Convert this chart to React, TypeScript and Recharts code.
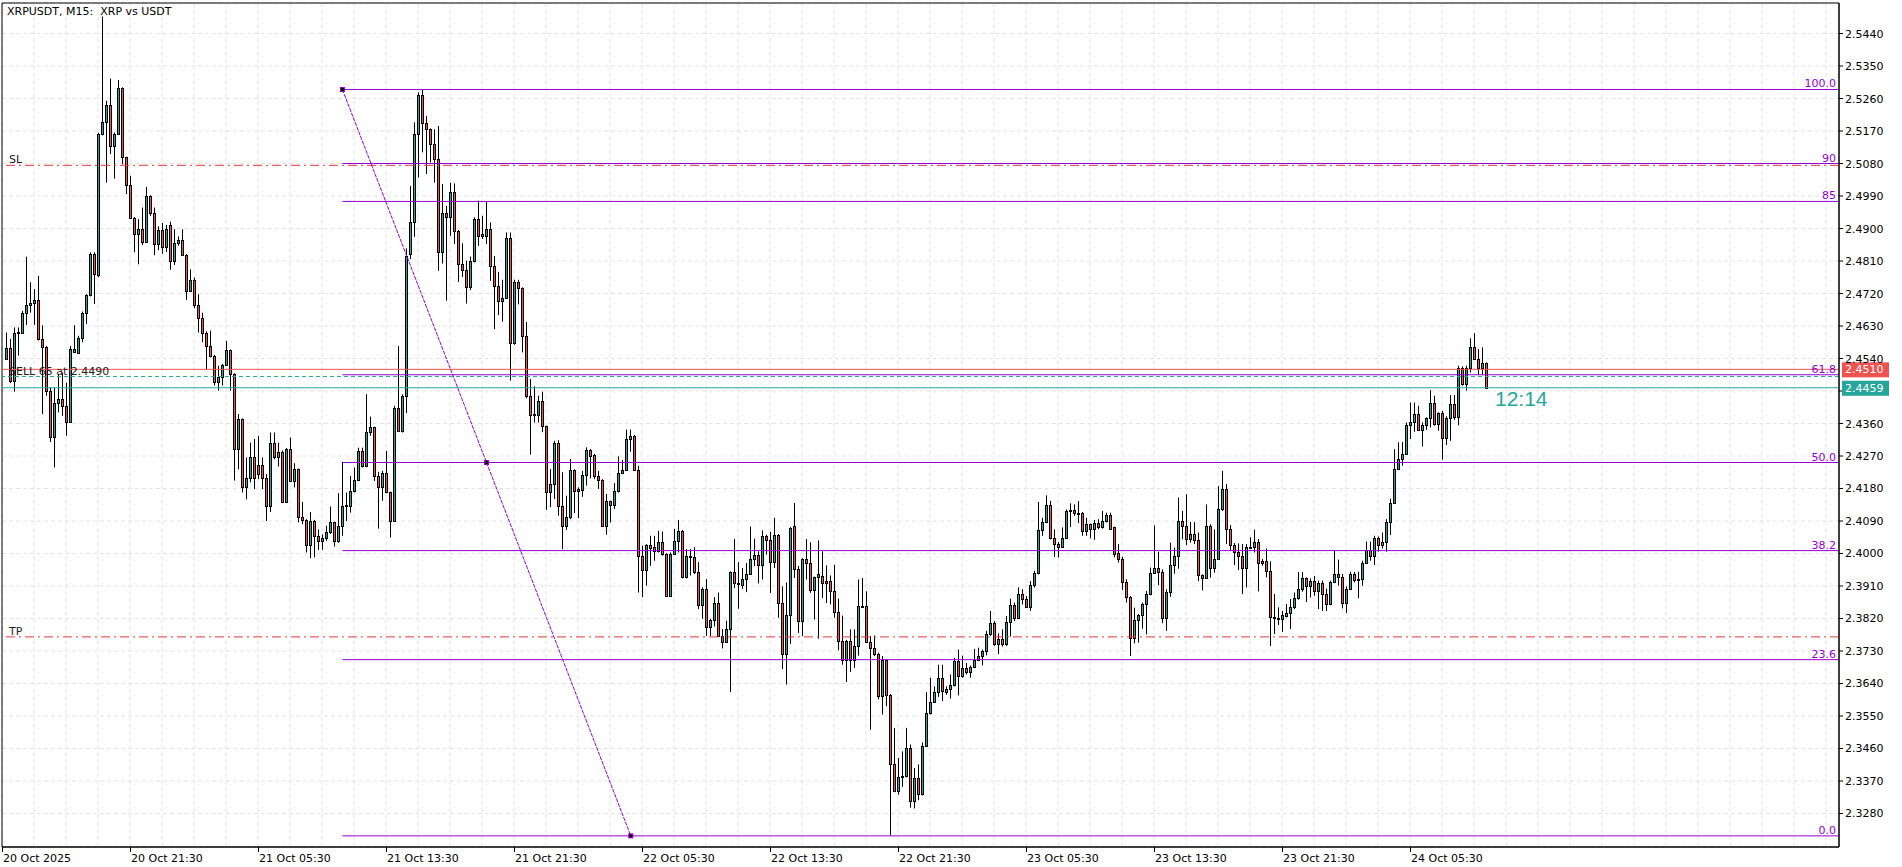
import React from 'react';
import {
  ComposedChart,
  Bar,
  XAxis,
  YAxis,
  CartesianGrid,
  ReferenceLine,
  ReferenceDot,
  ReferenceArea,
} from 'recharts';

// [open, high, low, close] per M15 bar
type Ohlc = [number, number, number, number];

// 20 Oct 13:45 - 23:45
const oct20: Ohlc[] = [
  [2.4540, 2.4612, 2.4537, 2.4568], [2.4568, 2.4594, 2.4472, 2.4478], [2.4478, 2.4626, 2.4448, 2.4612],
  [2.4610, 2.4626, 2.4548, 2.4614], [2.4612, 2.4672, 2.4610, 2.4667], [2.4667, 2.4822, 2.4633, 2.4688],
  [2.4688, 2.4751, 2.4667, 2.4694], [2.4693, 2.4732, 2.4633, 2.4702], [2.4702, 2.4769, 2.4590, 2.4594],
  [2.4594, 2.4632, 2.4386, 2.4571], [2.4571, 2.4575, 2.4437, 2.4451], [2.4451, 2.4460, 2.4309, 2.4323],
  [2.4323, 2.4460, 2.4238, 2.4418], [2.4418, 2.4497, 2.4391, 2.4429], [2.4429, 2.4501, 2.4381, 2.4409],
  [2.4409, 2.4473, 2.4326, 2.4365], [2.4365, 2.4575, 2.4362, 2.4566], [2.4557, 2.4632, 2.4555, 2.4566],
  [2.4556, 2.4603, 2.4553, 2.4597], [2.4597, 2.4670, 2.4585, 2.4667], [2.4667, 2.4718, 2.4635, 2.4715],
  [2.4715, 2.4834, 2.4712, 2.4829], [2.4829, 2.4834, 2.4691, 2.4774], [2.4771, 2.5165, 2.4765, 2.5161],
  [2.5161, 2.5487, 2.5158, 2.5194], [2.5194, 2.5254, 2.5027, 2.5242], [2.5242, 2.5315, 2.5106, 2.5129],
  [2.5129, 2.5166, 2.5038, 2.5163], [2.5163, 2.5311, 2.5160, 2.5288], [2.5288, 2.5291, 2.5078, 2.5097],
  [2.5097, 2.5099, 2.4995, 2.5020], [2.5020, 2.5046, 2.4928, 2.4930], [2.4930, 2.4932, 2.4834, 2.4884],
  [2.4884, 2.4926, 2.4801, 2.4898], [2.4898, 2.4958, 2.4854, 2.4864], [2.4864, 2.5015, 2.4862, 2.4990],
  [2.4990, 2.4992, 2.4935, 2.4944], [2.4944, 2.4958, 2.4826, 2.4858], [2.4858, 2.4906, 2.4840, 2.4896],
  [2.4896, 2.4915, 2.4830, 2.4850], [2.4850, 2.4910, 2.4835, 2.4900],
];

// 21 Oct 00:00 - 23:45
const oct21: Ohlc[] = [
  [2.4910, 2.4919, 2.4786, 2.4810], [2.4810, 2.4898, 2.4799, 2.4861], [2.4861, 2.4878, 2.4852, 2.4868],
  [2.4868, 2.4898, 2.4824, 2.4826], [2.4826, 2.4829, 2.4702, 2.4726], [2.4726, 2.4787, 2.4724, 2.4757],
  [2.4757, 2.4764, 2.4679, 2.4688], [2.4688, 2.4718, 2.4612, 2.4651], [2.4651, 2.4667, 2.4585, 2.4612],
  [2.4612, 2.4615, 2.4509, 2.4575], [2.4575, 2.4617, 2.4543, 2.4548], [2.4548, 2.4550, 2.4465, 2.4476],
  [2.4476, 2.4520, 2.4451, 2.4489], [2.4489, 2.4525, 2.4465, 2.4522], [2.4522, 2.4589, 2.4520, 2.4563],
  [2.4563, 2.4565, 2.4451, 2.4497], [2.4497, 2.4499, 2.4202, 2.4289], [2.4289, 2.4386, 2.4233, 2.4372],
  [2.4372, 2.4374, 2.4169, 2.4183], [2.4183, 2.4266, 2.4150, 2.4208], [2.4208, 2.4307, 2.4197, 2.4266],
  [2.4266, 2.4317, 2.4178, 2.4208], [2.4245, 2.4326, 2.4206, 2.4220], [2.4245, 2.4266, 2.4178, 2.4208],
  [2.4208, 2.4220, 2.4090, 2.4132], [2.4132, 2.4335, 2.4115, 2.4307], [2.4307, 2.4335, 2.4261, 2.4266],
  [2.4266, 2.4307, 2.4241, 2.4282], [2.4282, 2.4285, 2.4140, 2.4143], [2.4143, 2.4292, 2.4140, 2.4289],
  [2.4289, 2.4321, 2.4199, 2.4201], [2.4201, 2.4250, 2.4183, 2.4233], [2.4233, 2.4235, 2.4086, 2.4102],
  [2.4102, 2.4143, 2.4081, 2.4093], [2.4093, 2.4095, 2.4003, 2.4024], [2.4024, 2.4115, 2.3987, 2.4091],
  [2.4091, 2.4093, 2.3989, 2.4049], [2.4049, 2.4067, 2.4010, 2.4035], [2.4035, 2.4053, 2.4010, 2.4042],
  [2.4042, 2.4077, 2.4035, 2.4060], [2.4060, 2.4130, 2.4054, 2.4086], [2.4086, 2.4088, 2.4019, 2.4035],
  [2.4035, 2.4167, 2.4030, 2.4075], [2.4075, 2.4254, 2.4049, 2.4132], [2.4132, 2.4169, 2.4090, 2.4134],
  [2.4132, 2.4215, 2.4113, 2.4174], [2.4174, 2.4238, 2.4169, 2.4204], [2.4204, 2.4293, 2.4202, 2.4284],
  [2.4284, 2.4293, 2.4238, 2.4241], [2.4241, 2.4441, 2.4239, 2.4337], [2.4337, 2.4379, 2.4326, 2.4349],
  [2.4349, 2.4351, 2.4201, 2.4215], [2.4215, 2.4226, 2.4069, 2.4183], [2.4183, 2.4229, 2.4146, 2.4224],
  [2.4224, 2.4284, 2.4167, 2.4169], [2.4169, 2.4171, 2.4044, 2.4091], [2.4091, 2.4409, 2.4089, 2.4404],
  [2.4404, 2.4575, 2.4338, 2.4340], [2.4340, 2.4441, 2.4335, 2.4437], [2.4437, 2.4845, 2.4389, 2.4824],
  [2.4829, 2.5018, 2.4815, 2.4919], [2.4919, 2.5194, 2.4877, 2.5161], [2.5161, 2.5277, 2.5041, 2.5269],
  [2.5269, 2.5286, 2.5111, 2.5191], [2.5191, 2.5212, 2.5051, 2.5175], [2.5175, 2.5177, 2.5083, 2.5134],
  [2.5134, 2.5175, 2.5027, 2.5092], [2.5092, 2.5184, 2.4783, 2.4835], [2.4835, 2.5023, 2.4803, 2.4944],
  [2.4944, 2.4963, 2.4700, 2.4931], [2.4931, 2.5027, 2.4880, 2.5000], [2.5000, 2.5025, 2.4857, 2.4894],
  [2.4894, 2.4896, 2.4752, 2.4803], [2.4803, 2.4859, 2.4766, 2.4786], [2.4786, 2.4811, 2.4692, 2.4737],
  [2.4737, 2.4822, 2.4730, 2.4811], [2.4811, 2.4931, 2.4806, 2.4926], [2.4926, 2.4977, 2.4852, 2.4880],
  [2.4880, 2.4935, 2.4871, 2.4884], [2.4880, 2.4974, 2.4857, 2.4898], [2.4898, 2.4917, 2.4755, 2.4797],
  [2.4797, 2.4824, 2.4621, 2.4741], [2.4741, 2.4780, 2.4660, 2.4700], [2.4700, 2.4758, 2.4642, 2.4707],
  [2.4707, 2.4889, 2.4705, 2.4874], [2.4874, 2.4889, 2.4479, 2.4583], [2.4583, 2.4758, 2.4578, 2.4753],
  [2.4753, 2.4758, 2.4690, 2.4735], [2.4735, 2.4737, 2.4557, 2.4601], [2.4601, 2.4641, 2.4430, 2.4435],
  [2.4435, 2.4483, 2.4274, 2.4384], [2.4384, 2.4463, 2.4363, 2.4386], [2.4384, 2.4437, 2.4363, 2.4421],
  [2.4421, 2.4448, 2.4336, 2.4352], [2.4352, 2.4354, 2.4121, 2.4169], [2.4169, 2.4234, 2.4128, 2.4192],
];

// 22 Oct 00:00 - 23:45
const oct22: Ohlc[] = [
  [2.4192, 2.4312, 2.4151, 2.4305], [2.4305, 2.4314, 2.4105, 2.4131], [2.4131, 2.4225, 2.4012, 2.4077],
  [2.4077, 2.4160, 2.4065, 2.4100], [2.4100, 2.4262, 2.4095, 2.4231], [2.4231, 2.4233, 2.4112, 2.4174],
  [2.4179, 2.4183, 2.4098, 2.4172], [2.4177, 2.4229, 2.4157, 2.4217], [2.4217, 2.4294, 2.4188, 2.4287],
  [2.4287, 2.4289, 2.4208, 2.4271], [2.4273, 2.4276, 2.4206, 2.4214], [2.4214, 2.4229, 2.4179, 2.4204],
  [2.4204, 2.4206, 2.4075, 2.4077], [2.4077, 2.4165, 2.4052, 2.4144], [2.4144, 2.4146, 2.4086, 2.4135],
  [2.4135, 2.4195, 2.4123, 2.4172], [2.4172, 2.4269, 2.4169, 2.4222], [2.4222, 2.4259, 2.4220, 2.4231],
  [2.4231, 2.4343, 2.4229, 2.4317], [2.4317, 2.4343, 2.4282, 2.4326], [2.4326, 2.4328, 2.4229, 2.4231],
  [2.4231, 2.4243, 2.3892, 2.3994], [2.3994, 2.4022, 2.3879, 2.3955], [2.3955, 2.4026, 2.3911, 2.4024],
  [2.4024, 2.4049, 2.3966, 2.4015], [2.4017, 2.4049, 2.3980, 2.4006], [2.4006, 2.4063, 2.4003, 2.4031],
  [2.4031, 2.4061, 2.3994, 2.3999], [2.3999, 2.4001, 2.3881, 2.3883], [2.3883, 2.4003, 2.3881, 2.3999],
  [2.3999, 2.4068, 2.3996, 2.4034], [2.4034, 2.4093, 2.4003, 2.4063], [2.4063, 2.4065, 2.3931, 2.3936],
  [2.3936, 2.4012, 2.3931, 2.3992], [2.3992, 2.4012, 2.3939, 2.3989], [2.3989, 2.4017, 2.3943, 2.3950],
  [2.3950, 2.3976, 2.3846, 2.3858], [2.3858, 2.3906, 2.3819, 2.3902], [2.3902, 2.3929, 2.3772, 2.3796],
  [2.3796, 2.3819, 2.3771, 2.3816], [2.3816, 2.3879, 2.3798, 2.3862], [2.3862, 2.3892, 2.3770, 2.3772],
  [2.3772, 2.3791, 2.3737, 2.3756], [2.3756, 2.3814, 2.3754, 2.3791], [2.3791, 2.3950, 2.3616, 2.3948],
  [2.3948, 2.4040, 2.3904, 2.3917], [2.3916, 2.3976, 2.3847, 2.3918], [2.3914, 2.3960, 2.3902, 2.3928],
  [2.3928, 2.3974, 2.3893, 2.3944], [2.3944, 2.4075, 2.3942, 2.3986], [2.3986, 2.4041, 2.3965, 2.3997],
  [2.3997, 2.4006, 2.3917, 2.3967], [2.3967, 2.4064, 2.3928, 2.4048], [2.4048, 2.4052, 2.3997, 2.4036],
  [2.4036, 2.4060, 2.3891, 2.3976], [2.3976, 2.4099, 2.3960, 2.4050], [2.4052, 2.4054, 2.3822, 2.3863],
  [2.3863, 2.3909, 2.3680, 2.3723], [2.3723, 2.3920, 2.3637, 2.3831], [2.3831, 2.4073, 2.3750, 2.4071],
  [2.4075, 2.4140, 2.3932, 2.3958], [2.3958, 2.3965, 2.3780, 2.3814], [2.3814, 2.3987, 2.3771, 2.3986],
  [2.3986, 2.4040, 2.3928, 2.3974], [2.3974, 2.4031, 2.3891, 2.3900], [2.3900, 2.3936, 2.3817, 2.3934],
  [2.3934, 2.4036, 2.3764, 2.3942], [2.3939, 2.4006, 2.3877, 2.3919], [2.3925, 2.3967, 2.3863, 2.3919],
  [2.3925, 2.3939, 2.3859, 2.3897], [2.3897, 2.3969, 2.3822, 2.3838], [2.3838, 2.3875, 2.3732, 2.3759],
  [2.3759, 2.3828, 2.3692, 2.3706], [2.3706, 2.3761, 2.3644, 2.3759], [2.3759, 2.3790, 2.3672, 2.3706],
  [2.3706, 2.3790, 2.3683, 2.3743], [2.3743, 2.3928, 2.3717, 2.3854], [2.3854, 2.3932, 2.3849, 2.3851],
  [2.3854, 2.3895, 2.3752, 2.3754], [2.3754, 2.3771, 2.3512, 2.3739], [2.3739, 2.3773, 2.3716, 2.3723],
  [2.3723, 2.3725, 2.3596, 2.3605], [2.3605, 2.3716, 2.3554, 2.3704], [2.3704, 2.3706, 2.3577, 2.3609],
  [2.3609, 2.3611, 2.3219, 2.3416], [2.3416, 2.3517, 2.3339, 2.3342], [2.3342, 2.3434, 2.3332, 2.3380],
  [2.3380, 2.3452, 2.3354, 2.3383], [2.3383, 2.3517, 2.3380, 2.3462], [2.3462, 2.3471, 2.3296, 2.3314],
  [2.3314, 2.3406, 2.3294, 2.3379], [2.3379, 2.3416, 2.3317, 2.3335], [2.3335, 2.3477, 2.3330, 2.3468],
  [2.3468, 2.3616, 2.3464, 2.3557], [2.3557, 2.3656, 2.3554, 2.3589], [2.3589, 2.3632, 2.3586, 2.3617],
];

// 23 Oct 00:00 - 23:45
const oct23: Ohlc[] = [
  [2.3617, 2.3692, 2.3603, 2.3654], [2.3654, 2.3692, 2.3591, 2.3619], [2.3617, 2.3632, 2.3609, 2.3626],
  [2.3626, 2.3665, 2.3598, 2.3637], [2.3637, 2.3711, 2.3632, 2.3702], [2.3702, 2.3734, 2.3607, 2.3660],
  [2.3660, 2.3717, 2.3656, 2.3683], [2.3683, 2.3697, 2.3665, 2.3672], [2.3672, 2.3690, 2.3656, 2.3686],
  [2.3686, 2.3736, 2.3683, 2.3706], [2.3706, 2.3739, 2.3702, 2.3716], [2.3716, 2.3734, 2.3690, 2.3729],
  [2.3729, 2.3786, 2.3718, 2.3778], [2.3778, 2.3841, 2.3772, 2.3807], [2.3807, 2.3813, 2.3744, 2.3749],
  [2.3749, 2.3779, 2.3721, 2.3764], [2.3764, 2.3790, 2.3742, 2.3750], [2.3750, 2.3827, 2.3744, 2.3809],
  [2.3809, 2.3875, 2.3770, 2.3857], [2.3857, 2.3864, 2.3813, 2.3822], [2.3822, 2.3906, 2.3820, 2.3889],
  [2.3889, 2.3901, 2.3859, 2.3873], [2.3873, 2.3882, 2.3850, 2.3853], [2.3853, 2.3924, 2.3841, 2.3912],
  [2.3912, 2.3952, 2.3906, 2.3947], [2.3947, 2.4143, 2.3942, 2.4064], [2.4064, 2.4099, 2.4049, 2.4087],
  [2.4087, 2.4161, 2.4084, 2.4134], [2.4134, 2.4146, 2.4039, 2.4042], [2.4042, 2.4067, 2.3990, 2.4027],
  [2.4027, 2.4032, 2.3989, 2.4019], [2.4019, 2.4072, 2.4016, 2.4044], [2.4044, 2.4122, 2.4041, 2.4118],
  [2.4118, 2.4139, 2.4073, 2.4120], [2.4120, 2.4136, 2.4104, 2.4113], [2.4113, 2.4145, 2.4084, 2.4113],
  [2.4113, 2.4115, 2.4049, 2.4061], [2.4061, 2.4099, 2.4049, 2.4081], [2.4081, 2.4083, 2.4042, 2.4069],
  [2.4069, 2.4093, 2.4038, 2.4084], [2.4084, 2.4095, 2.4067, 2.4074], [2.4074, 2.4118, 2.4069, 2.4090],
  [2.4090, 2.4113, 2.4086, 2.4106], [2.4106, 2.4113, 2.4067, 2.4069], [2.4072, 2.4074, 2.3989, 2.3998],
  [2.4000, 2.4026, 2.3975, 2.3986], [2.3986, 2.3991, 2.3899, 2.3922], [2.3922, 2.3929, 2.3864, 2.3880],
  [2.3880, 2.3882, 2.3716, 2.3767], [2.3767, 2.3850, 2.3751, 2.3816], [2.3816, 2.3832, 2.3753, 2.3829],
  [2.3829, 2.3864, 2.3792, 2.3859], [2.3859, 2.3896, 2.3776, 2.3889], [2.3889, 2.3961, 2.3884, 2.3947],
  [2.3947, 2.4078, 2.3945, 2.3961], [2.3961, 2.4005, 2.3912, 2.3950], [2.3950, 2.3956, 2.3807, 2.3822],
  [2.3822, 2.3901, 2.3786, 2.3894], [2.3894, 2.4030, 2.3880, 2.3968], [2.3968, 2.4016, 2.3944, 2.3993],
  [2.3993, 2.4155, 2.3958, 2.4090], [2.4090, 2.4118, 2.4039, 2.4076], [2.4076, 2.4164, 2.4023, 2.4041],
  [2.4041, 2.4087, 2.4030, 2.4053], [2.4053, 2.4087, 2.4026, 2.4037], [2.4037, 2.4058, 2.3924, 2.3940],
  [2.3940, 2.3942, 2.3898, 2.3933], [2.3933, 2.4136, 2.3931, 2.4076], [2.4076, 2.4081, 2.3933, 2.3961],
  [2.3961, 2.4067, 2.3947, 2.3986], [2.3986, 2.4187, 2.3984, 2.4124], [2.4124, 2.4229, 2.4118, 2.4178],
  [2.4178, 2.4192, 2.4026, 2.4067], [2.4067, 2.4079, 2.4008, 2.4024], [2.4024, 2.4029, 2.3968, 2.4003],
  [2.4003, 2.4028, 2.3954, 2.3992], [2.3992, 2.4026, 2.3888, 2.3959], [2.3959, 2.4026, 2.3906, 2.4017],
  [2.4017, 2.4045, 2.4014, 2.4018], [2.4017, 2.4066, 2.4003, 2.4033], [2.4033, 2.4040, 2.3895, 2.3973],
  [2.3978, 2.3985, 2.3966, 2.3973], [2.3978, 2.4014, 2.3934, 2.3952], [2.3952, 2.3978, 2.3744, 2.3823],
  [2.3823, 2.3888, 2.3777, 2.3820], [2.3818, 2.3851, 2.3802, 2.3821], [2.3818, 2.3841, 2.3783, 2.3829],
  [2.3828, 2.3860, 2.3823, 2.3834], [2.3834, 2.3874, 2.3791, 2.3851], [2.3851, 2.3892, 2.3846, 2.3876],
  [2.3876, 2.3949, 2.3872, 2.3903], [2.3903, 2.3949, 2.3894, 2.3931], [2.3931, 2.3934, 2.3866, 2.3909],
  [2.3909, 2.3931, 2.3878, 2.3923], [2.3923, 2.3938, 2.3883, 2.3897], [2.3897, 2.3925, 2.3846, 2.3917],
];

// 24 Oct 00:00 - 10:15 (last bar still open)
const oct24: Ohlc[] = [
  [2.3917, 2.3925, 2.3841, 2.3889], [2.3889, 2.3903, 2.3841, 2.3860], [2.3860, 2.3925, 2.3857, 2.3920],
  [2.3920, 2.4008, 2.3918, 2.3943], [2.3943, 2.3983, 2.3911, 2.3934], [2.3934, 2.3943, 2.3848, 2.3864],
  [2.3864, 2.3909, 2.3835, 2.3903], [2.3903, 2.3949, 2.3901, 2.3943], [2.3943, 2.3949, 2.3920, 2.3927],
  [2.3929, 2.3949, 2.3876, 2.3929], [2.3929, 2.3980, 2.3911, 2.3975], [2.3975, 2.4033, 2.3973, 2.4009],
  [2.4009, 2.4033, 2.3980, 2.3992], [2.3992, 2.4049, 2.3968, 2.4042], [2.4042, 2.4047, 2.4005, 2.4024],
  [2.4024, 2.4058, 2.4014, 2.4033], [2.4033, 2.4095, 2.4005, 2.4086], [2.4086, 2.4152, 2.4051, 2.4141],
  [2.4141, 2.4289, 2.4140, 2.4234], [2.4234, 2.4308, 2.4232, 2.4263], [2.4263, 2.4309, 2.4243, 2.4275],
  [2.4275, 2.4363, 2.4273, 2.4356], [2.4356, 2.4418, 2.4317, 2.4363], [2.4363, 2.4418, 2.4337, 2.4386],
  [2.4386, 2.4409, 2.4340, 2.4342], [2.4342, 2.4363, 2.4296, 2.4356], [2.4356, 2.4377, 2.4342, 2.4374],
  [2.4374, 2.4452, 2.4349, 2.4418], [2.4418, 2.4437, 2.4354, 2.4358], [2.4358, 2.4391, 2.4340, 2.4388],
  [2.4388, 2.4395, 2.4260, 2.4320], [2.4320, 2.4380, 2.4300, 2.4374], [2.4374, 2.4439, 2.4312, 2.4414],
  [2.4414, 2.4439, 2.4370, 2.4378], [2.4378, 2.4520, 2.4355, 2.4515], [2.4515, 2.4518, 2.4465, 2.4469],
  [2.4469, 2.4520, 2.4451, 2.4515], [2.4515, 2.4596, 2.4501, 2.4571], [2.4571, 2.4610, 2.4538, 2.4540],
  [2.4540, 2.4566, 2.4494, 2.4513], [2.4513, 2.4571, 2.4494, 2.4527], [2.4527, 2.4529, 2.4457, 2.4459],
];

// bar slot 0 = 20 Oct 13:30, one label every 32 bars (8 hours)
const TIME_LABELS = [
  '20 Oct 2025', '20 Oct 21:30', '21 Oct 05:30', '21 Oct 13:30', '21 Oct 21:30', '22 Oct 05:30',
  '22 Oct 13:30', '22 Oct 21:30', '23 Oct 05:30', '23 Oct 13:30', '23 Oct 21:30', '24 Oct 05:30',
];

const PRICE_TICKS = [
  2.5440, 2.5350, 2.5260, 2.5170, 2.5080, 2.4990, 2.4900, 2.4810, 2.4720, 2.4630, 2.4540, 2.4450,
  2.4360, 2.4270, 2.4180, 2.4090, 2.4000, 2.3910, 2.3820, 2.3730, 2.3640, 2.3550, 2.3460, 2.3370, 2.3280,
];

const FIB_LEVELS = [
  { label: '100.0', price: 2.5285 },
  { label: '90', price: 2.5080 },
  { label: '85', price: 2.4975 },
  { label: '61.8', price: 2.4495 },
  { label: '50.0', price: 2.4252 },
  { label: '38.2', price: 2.4008 },
  { label: '23.6', price: 2.3706 },
  { label: '0.0', price: 2.3218 },
];
const FIB_START = { i: 85.1, price: 2.5285 };
const FIB_MID = { i: 121.15, price: 2.4252 };
const FIB_END = { i: 157.2, price: 2.3218 };

const ASK = 2.4510;
const BID = 2.4459;
const ENTRY = 2.4490;
const SL = 2.5075;
const TP = 2.3769;

const X_MAX = 459.25;
const Y_MIN = 2.31872;
const Y_MAX = 2.55245;

const UP = '#26a69a';
const DOWN = '#ef5350';
const FIB = '#9400d3';
const FONT = 'DejaVu Sans';

const data = [...oct20, ...oct21, ...oct22, ...oct23, ...oct24].map(([open, high, low, close], k) => ({
  i: k + 1,
  open,
  high,
  low,
  close,
  range: [low, high],
}));

const gridTicks: number[] = [];
for (let t = 0; t <= X_MAX; t += 8) gridTicks.push(t);

const Candle = (props: any) => {
  const { x, y, width, height, payload } = props;
  if (!payload) return <g />;
  const top = Math.min(y, y + height);
  const bottom = Math.max(y, y + height);
  const span = payload.high - payload.low;
  const k = span > 0 ? (bottom - top) / span : 0;
  const yo = top + (payload.high - payload.open) * k;
  const yc = top + (payload.high - payload.close) * k;
  const cx = Math.round(x + width / 2);
  const b0 = Math.round(Math.min(yo, yc));
  const b1 = Math.round(Math.max(yo, yc));
  const up = payload.close >= payload.open;
  return (
    <g>
      <line x1={cx + 0.5} x2={cx + 0.5} y1={top} y2={bottom} stroke="#000" strokeWidth={1} />
      <rect
        x={cx - 0.5}
        y={b0 + 0.5}
        width={2}
        height={Math.max(b1 - b0, 1)}
        fill={up ? UP : DOWN}
        stroke="#000"
        strokeWidth={1}
      />
    </g>
  );
};

const TimeTick = (props: any) => {
  const { x, y, payload } = props;
  const v = payload.value;
  if (v % 32 !== 0 || v / 32 >= TIME_LABELS.length) return <g />;
  return (
    <g>
      <line x1={x + 0.5} x2={x + 0.5} y1={y - 5} y2={y} stroke="#000" />
      <text x={x + 1} y={y + 10} fontSize={11} fontFamily={FONT} fill="#000">
        {TIME_LABELS[v / 32]}
      </text>
    </g>
  );
};

const PriceTick = (props: any) => {
  const { x, y, payload } = props;
  if (Math.abs(payload.value - 2.445) < 1e-6) return <g />;
  return (
    <text x={x} y={y + 4} fontSize={11} fontFamily={FONT} fill="#000">
      {payload.value.toFixed(4)}
    </text>
  );
};

const textAt = (txt: string, dx: number, dy: number, color: string, anchor = 'start', size = 11, family = FONT) =>
  (p: any) => (
    <text
      x={p.cx + dx}
      y={p.cy + dy}
      fill={color}
      fontSize={size}
      fontFamily={family}
      textAnchor={anchor}
      style={{ whiteSpace: 'pre' }}
    >
      {txt}
    </text>
  );

const priceBox = (txt: string, color: string) => (p: any) => (
  <g>
    <rect x={p.cx + 3} y={p.cy - 7} width={47} height={15} fill={color} />
    <text x={p.cx + 6} y={p.cy + 4} fill="#fff" fontSize={11} fontFamily={FONT}>
      {txt}
    </text>
  </g>
);

const anchorSquare = (p: any) => (
  <rect x={p.cx - 2} y={p.cy - 2} width={4} height={4} fill="#000" stroke={FIB} strokeWidth={1} />
);

const App: React.FC = () => {
  return (
    <div style={{ position: 'absolute', left: 0, top: 0, width: 1902, height: 867, background: '#fff' }}>
      <ComposedChart width={1902} height={867} data={data} margin={{ top: 3, right: 0, bottom: 0, left: 2 }}>
        <CartesianGrid stroke="#e4e4e4" strokeDasharray="4 3" />
        <XAxis
          dataKey="i"
          type="number"
          domain={[0, X_MAX]}
          allowDataOverflow
          ticks={gridTicks}
          interval={0}
          height={20}
          tickSize={5}
          tickMargin={0}
          tickLine={false}
          axisLine={{ stroke: '#000' }}
          tick={<TimeTick />}
        />
        <YAxis
          orientation="right"
          type="number"
          domain={[Y_MIN, Y_MAX]}
          allowDataOverflow
          ticks={PRICE_TICKS}
          interval={0}
          width={63}
          tickSize={4}
          tickMargin={2}
          tickLine={{ stroke: '#000' }}
          axisLine={{ stroke: '#000' }}
          tick={<PriceTick />}
        />
        <ReferenceArea x1={0} x2={X_MAX} y1={Y_MIN} y2={Y_MAX} fill="none" stroke="#000" strokeWidth={1} />

        <ReferenceDot x={0} y={Y_MAX} r={1} shape={textAt('XRPUSDT, M15:  XRP vs USDT', 5, 12, '#000')} />
        <ReferenceDot x={0} y={ENTRY} r={1} shape={textAt('SELL 65 at 2.4490', 7, -2, '#222')} />

        <ReferenceLine y={SL} stroke="#e53935" strokeDasharray="9 4 2 4" />
        <ReferenceLine y={TP} stroke="#e53935" strokeDasharray="9 4 2 4" />
        <ReferenceDot x={0} y={SL} r={1} shape={textAt('SL', 7, -2, '#222')} />
        <ReferenceDot x={0} y={TP} r={1} shape={textAt('TP', 7, -2, '#222')} />

        {FIB_LEVELS.map((f) => (
          <ReferenceLine
            key={f.label}
            segment={[{ x: FIB_START.i, y: f.price }, { x: X_MAX, y: f.price }]}
            stroke={FIB}
            strokeWidth={1}
          />
        ))}
        <ReferenceLine
          segment={[{ x: FIB_START.i, y: FIB_START.price }, { x: FIB_END.i, y: FIB_END.price }]}
          stroke={FIB}
          strokeWidth={1}
          strokeDasharray="4 1"
        />

        <ReferenceLine y={ASK} stroke={DOWN} strokeWidth={1} />
        <ReferenceLine y={ENTRY} stroke={UP} strokeDasharray="4 3" />
        <ReferenceLine y={BID} stroke={UP} strokeWidth={1} />

        <Bar dataKey="range" barSize={3} shape={<Candle />} isAnimationActive={false} />

        {FIB_LEVELS.map((f) => (
          <ReferenceDot key={'l' + f.label} x={X_MAX} y={f.price} r={1} shape={textAt(f.label, -3, -2, FIB, 'end')} />
        ))}
        <ReferenceDot x={FIB_START.i} y={FIB_START.price} r={2} shape={anchorSquare} />
        <ReferenceDot x={FIB_MID.i} y={FIB_MID.price} r={2} shape={anchorSquare} />
        <ReferenceDot x={FIB_END.i} y={FIB_END.price} r={2} shape={anchorSquare} />

        <ReferenceDot x={371} y={BID} r={1} shape={textAt('12:14', 9, 18, UP, 'start', 21, 'Liberation Sans')} />
        <ReferenceDot x={X_MAX} y={ASK} r={1} shape={priceBox('2.4510', DOWN)} />
        <ReferenceDot x={X_MAX} y={BID} r={1} shape={priceBox('2.4459', UP)} />
      </ComposedChart>
    </div>
  );
};

export default App;
